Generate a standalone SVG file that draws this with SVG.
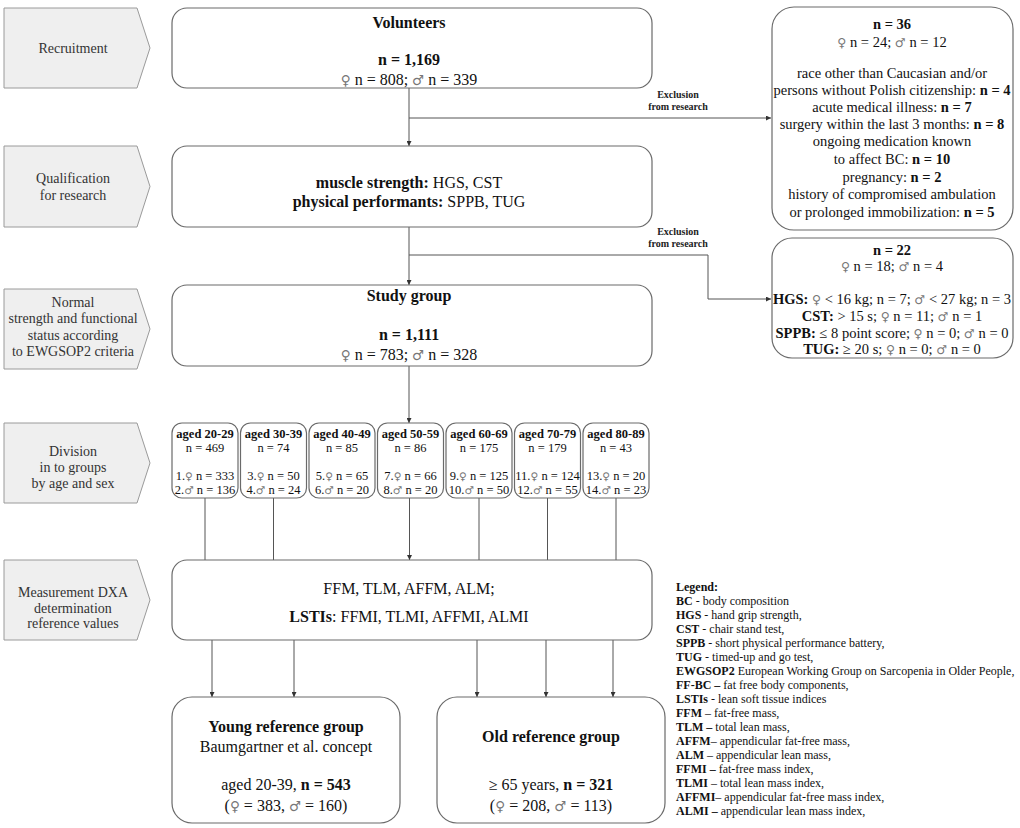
<svg xmlns="http://www.w3.org/2000/svg" width="1020" height="828" viewBox="0 0 1020 828">
<defs>
<marker id="ar" viewBox="0 0 6 6" refX="6" refY="3" markerWidth="5" markerHeight="5" orient="auto" markerUnits="userSpaceOnUse">
<path d="M0,0 L6,3 L0,6 Z" fill="#333"/>
</marker>
<style>
text{font-family:"Liberation Serif","Times New Roman",serif;fill:#111}
.st{fill:#efefef;stroke:#9a9a9a;stroke-width:1}
.sl{font-size:14px;fill:#333;text-anchor:middle}
.bx{fill:#fff;stroke:#6a6a6a;stroke-width:1.2}
.c{text-anchor:middle}
.b{font-weight:bold}
.f16{font-size:16px}
.f14{font-size:14.5px}
.f12{font-size:12.5px}
.lg{font-size:12px}
.ex{font-size:10px;font-weight:bold;text-anchor:middle;fill:#222}
.sx{font-family:"DejaVu Sans",sans-serif;fill:#777;font-size:0.85em;font-weight:normal}
.cn{fill:none;stroke:#555;stroke-width:1}
</style>
</defs>

<g id="stages">
<g id="stage-recruitment">
<path class="st" d="M4,8 H137 L150,48 L137,88 H4 Z"/>
<text class="sl" x="73" y="53">Recruitment</text>
</g>
<g id="stage-qualification">
<path class="st" d="M4,146 H137 L150,186.5 L137,227 H4 Z"/>
<text class="sl" x="73" y="183">Qualification</text>
<text class="sl" x="73" y="200">for research</text>
</g>
<g id="stage-normal">
<path class="st" d="M4,289 H137 L150,329 L137,369 H4 Z"/>
<text class="sl" x="73" y="307">Normal</text>
<text class="sl" x="73" y="323">strength and functional</text>
<text class="sl" x="73" y="340">status according</text>
<text class="sl" x="73" y="356">to EWGSOP2 criteria</text>
</g>
<g id="stage-division">
<path class="st" d="M4,423 H137 L150,463 L137,503 H4 Z"/>
<text class="sl" x="73" y="456">Division</text>
<text class="sl" x="73" y="472">in to groups</text>
<text class="sl" x="73" y="488">by age and sex</text>
</g>
<g id="stage-measurement">
<path class="st" d="M4,560 H137 L150,600 L137,640 H4 Z"/>
<text class="sl" x="73" y="597">Measurement DXA</text>
<text class="sl" x="73" y="613">determination</text>
<text class="sl" x="73" y="628">reference values</text>
</g>
</g>

<g id="connectors">
<path class="cn" d="M409,88 V146" marker-end="url(#ar)"/>
<path class="cn" d="M409,118 H771" marker-end="url(#ar)"/>
<path class="cn" d="M409,227 V285" marker-end="url(#ar)"/>
<path class="cn" d="M409,255 H708 V299 H771" marker-end="url(#ar)"/>
<path class="cn" d="M409,366 V423" marker-end="url(#ar)"/>
<path class="cn" d="M205,498 V560"/>
<path class="cn" d="M273.5,498 V560"/>
<path class="cn" d="M409.5,498 V560" marker-end="url(#ar)"/>
<path class="cn" d="M479,498 V560"/>
<path class="cn" d="M547.5,498 V560"/>
<path class="cn" d="M616,498 V560"/>
<path class="cn" d="M212,640 V697" marker-end="url(#ar)"/>
<path class="cn" d="M294,640 V697" marker-end="url(#ar)"/>
<path class="cn" d="M477,640 V697" marker-end="url(#ar)"/>
<path class="cn" d="M546,640 V697" marker-end="url(#ar)"/>
<path class="cn" d="M613,640 V697" marker-end="url(#ar)"/>
<text class="ex" x="678" y="98">Exclusion</text>
<text class="ex" x="678" y="110">from research</text>
<text class="ex" x="678" y="235">Exclusion</text>
<text class="ex" x="678" y="247">from research</text>
</g>

<g id="volunteers">
<rect class="bx" x="172" y="8" width="480" height="80" rx="15"/>
<text class="c b f16" x="409" y="28">Volunteers</text>
<text class="c b f16" x="409" y="65">n = 1,169</text>
<text class="c f16" x="409" y="85"><tspan class="sx">♀</tspan> n = 808; <tspan class="sx">♂</tspan> n = 339</text>
</g>

<g id="qualification">
<rect class="bx" x="172" y="146" width="480" height="81" rx="15"/>
<text class="c f16" x="409" y="188"><tspan class="b">muscle strength:</tspan> HGS, CST</text>
<text class="c f16" x="409" y="207"><tspan class="b">physical performants:</tspan> SPPB, TUG</text>
</g>

<g id="study-group">
<rect class="bx" x="172" y="285" width="480" height="81" rx="15"/>
<text class="c b f16" x="409" y="301">Study group</text>
<text class="c b f16" x="409" y="340">n = 1,111</text>
<text class="c f16" x="409" y="360"><tspan class="sx">♀</tspan> n = 783; <tspan class="sx">♂</tspan> n = 328</text>
</g>

<g id="exclusion-1">
<rect class="bx" x="772" y="7" width="241" height="223" rx="22"/>
<text class="c b f14" x="892" y="29">n = 36</text>
<text class="c f14" x="892" y="47"><tspan class="sx">♀</tspan> n = 24; <tspan class="sx">♂</tspan> n = 12</text>
<text class="c f14" x="892" y="78">race other than Caucasian and/or</text>
<text class="c f14" x="892" y="95">persons without Polish citizenship: <tspan class="b">n = 4</tspan></text>
<text class="c f14" x="892" y="112">acute medical illness: <tspan class="b">n = 7</tspan></text>
<text class="c f14" x="892" y="129">surgery within the last 3 months: <tspan class="b">n = 8</tspan></text>
<text class="c f14" x="892" y="146">ongoing medication known</text>
<text class="c f14" x="892" y="164">to affect BC: <tspan class="b">n = 10</tspan></text>
<text class="c f14" x="892" y="182">pregnancy: <tspan class="b">n = 2</tspan></text>
<text class="c f14" x="892" y="199">history of compromised ambulation</text>
<text class="c f14" x="892" y="217">or prolonged immobilization: <tspan class="b">n =  5</tspan></text>
</g>

<g id="exclusion-2">
<rect class="bx" x="772" y="238" width="241" height="120" rx="20"/>
<text class="c b f14" x="892" y="255">n = 22</text>
<text class="c f14" x="892" y="271"><tspan class="sx">♀</tspan> n = 18; <tspan class="sx">♂</tspan> n = 4</text>
<text class="c f14" x="892" y="304"><tspan class="b">HGS:</tspan> <tspan class="sx">♀</tspan> &lt; 16 kg; n = 7; <tspan class="sx">♂</tspan> &lt; 27 kg; n = 3</text>
<text class="c f14" x="892" y="321"><tspan class="b">CST:</tspan> &gt; 15 s; <tspan class="sx">♀</tspan> n = 11; <tspan class="sx">♂</tspan> n = 1</text>
<text class="c f14" x="892" y="338"><tspan class="b">SPPB:</tspan> ≤ 8 point score; <tspan class="sx">♀</tspan> n = 0; <tspan class="sx">♂</tspan> n = 0</text>
<text class="c f14" x="892" y="354"><tspan class="b">TUG:</tspan> ≥ 20 s; <tspan class="sx">♀</tspan> n = 0; <tspan class="sx">♂</tspan> n = 0</text>
</g>

<g id="age-20-29">
<rect class="bx" x="172" y="423" width="66" height="75" rx="10"/>
<text class="c b f12" x="205" y="438">aged 20-29</text>
<text class="c f12" x="205" y="452">n = 469</text>
<text class="c f12" x="205" y="480">1.<tspan class="sx">♀</tspan> n = 333</text>
<text class="c f12" x="205" y="494">2.<tspan class="sx">♂</tspan> n = 136</text>
</g>
<g id="age-30-39">
<rect class="bx" x="240.5" y="423" width="66" height="75" rx="10"/>
<text class="c b f12" x="273.5" y="438">aged 30-39</text>
<text class="c f12" x="273.5" y="452">n = 74</text>
<text class="c f12" x="273.5" y="480">3.<tspan class="sx">♀</tspan> n = 50</text>
<text class="c f12" x="273.5" y="494">4.<tspan class="sx">♂</tspan> n = 24</text>
</g>
<g id="age-40-49">
<rect class="bx" x="309" y="423" width="66" height="75" rx="10"/>
<text class="c b f12" x="342" y="438">aged 40-49</text>
<text class="c f12" x="342" y="452">n = 85</text>
<text class="c f12" x="342" y="480">5.<tspan class="sx">♀</tspan> n = 65</text>
<text class="c f12" x="342" y="494">6.<tspan class="sx">♂</tspan> n = 20</text>
</g>
<g id="age-50-59">
<rect class="bx" x="377.5" y="423" width="66" height="75" rx="10"/>
<text class="c b f12" x="410.5" y="438">aged 50-59</text>
<text class="c f12" x="410.5" y="452">n = 86</text>
<text class="c f12" x="410.5" y="480">7.<tspan class="sx">♀</tspan> n = 66</text>
<text class="c f12" x="410.5" y="494">8.<tspan class="sx">♂</tspan> n = 20</text>
</g>
<g id="age-60-69">
<rect class="bx" x="446" y="423" width="66" height="75" rx="10"/>
<text class="c b f12" x="479" y="438">aged 60-69</text>
<text class="c f12" x="479" y="452">n = 175</text>
<text class="c f12" x="479" y="480">9.<tspan class="sx">♀</tspan> n = 125</text>
<text class="c f12" x="479" y="494">10.<tspan class="sx">♂</tspan> n = 50</text>
</g>
<g id="age-70-79">
<rect class="bx" x="514.5" y="423" width="66" height="75" rx="10"/>
<text class="c b f12" x="547.5" y="438">aged 70-79</text>
<text class="c f12" x="547.5" y="452">n = 179</text>
<text class="c f12" x="547.5" y="480">11.<tspan class="sx">♀</tspan> n = 124</text>
<text class="c f12" x="547.5" y="494">12.<tspan class="sx">♂</tspan> n = 55</text>
</g>
<g id="age-80-89">
<rect class="bx" x="583" y="423" width="66" height="75" rx="10"/>
<text class="c b f12" x="616" y="438">aged 80-89</text>
<text class="c f12" x="616" y="452">n = 43</text>
<text class="c f12" x="616" y="480">13.<tspan class="sx">♀</tspan> n = 20</text>
<text class="c f12" x="616" y="494">14.<tspan class="sx">♂</tspan> n = 23</text>
</g>

<g id="measurement">
<rect class="bx" x="172" y="560" width="480" height="80" rx="15"/>
<text class="c f16" x="409" y="594">FFM, TLM, AFFM, ALM;</text>
<text class="c f16" x="409" y="622"><tspan class="b">LSTIs</tspan>: FFMI, TLMI, AFFMI, ALMI</text>
</g>

<g id="young-reference">
<rect class="bx" x="172" y="697" width="228" height="126" rx="20"/>
<text class="c b f16" x="286" y="732">Young reference group</text>
<text class="c f16" x="286" y="752">Baumgartner et al. concept</text>
<text class="c f16" x="286" y="790">aged 20-39, <tspan class="b">n = 543</tspan></text>
<text class="c f16" x="286" y="811">(<tspan class="sx">♀</tspan> = 383, <tspan class="sx">♂</tspan> = 160)</text>
</g>

<g id="old-reference">
<rect class="bx" x="437" y="697" width="228" height="126" rx="20"/>
<text class="c b f16" x="551" y="742">Old reference group</text>
<text class="c f16" x="551" y="790">≥ 65 years, <tspan class="b">n = 321</tspan></text>
<text class="c f16" x="551" y="811">(<tspan class="sx">♀</tspan> = 208, <tspan class="sx">♂</tspan> = 113)</text>
</g>

<g id="legend" class="lg">
<text x="676" y="591" class="b">Legend:</text>
<text x="676" y="605"><tspan class="b">BC</tspan> - body composition</text>
<text x="676" y="619"><tspan class="b">HGS</tspan> - hand grip strength,</text>
<text x="676" y="633"><tspan class="b">CST</tspan> - chair stand test,</text>
<text x="676" y="647"><tspan class="b">SPPB</tspan> - short physical performance battery,</text>
<text x="676" y="661"><tspan class="b">TUG</tspan> - timed-up and go test,</text>
<text x="676" y="675"><tspan class="b">EWGSOP2</tspan> European Working Group on Sarcopenia in Older People,</text>
<text x="676" y="689"><tspan class="b">FF-BC –</tspan> fat free body components,</text>
<text x="676" y="703"><tspan class="b">LSTIs</tspan> - lean soft tissue indices</text>
<text x="676" y="717"><tspan class="b">FFM</tspan> – fat-free mass,</text>
<text x="676" y="731"><tspan class="b">TLM –</tspan> total lean mass,</text>
<text x="676" y="745"><tspan class="b">AFFM</tspan>– appendicular fat-free mass,</text>
<text x="676" y="759"><tspan class="b">ALM</tspan> – appendicular lean mass,</text>
<text x="676" y="773"><tspan class="b">FFMI –</tspan> fat-free mass index,</text>
<text x="676" y="787"><tspan class="b">TLMI</tspan> – total lean mass index,</text>
<text x="676" y="801"><tspan class="b">AFFMI</tspan>– appendicular fat-free mass index,</text>
<text x="676" y="815"><tspan class="b">ALMI –</tspan> appendicular lean mass index,</text>
</g>
</svg>
